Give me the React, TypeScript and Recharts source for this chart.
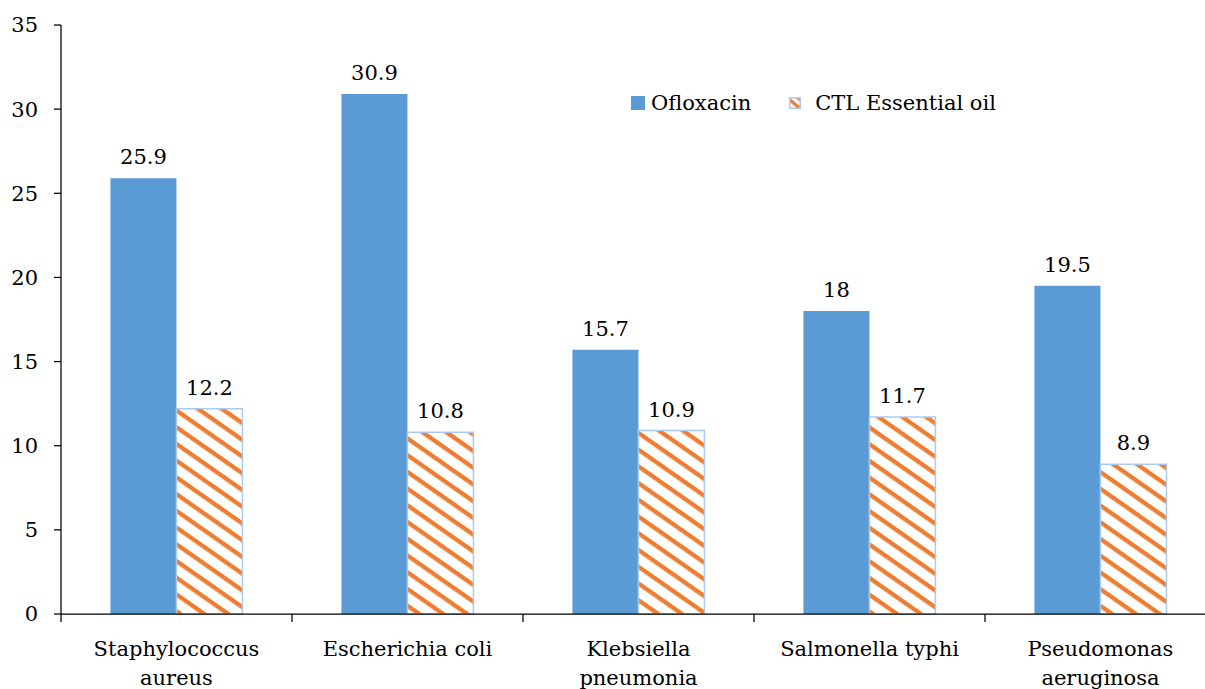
import React from "react";
import { BarChart, Bar, XAxis, YAxis, LabelList, Legend } from "recharts";

const categories = [
  "Staphylococcus aureus",
  "Escherichia coli",
  "Klebsiella pneumonia",
  "Salmonella typhi",
  "Pseudomonas aeruginosa",
];
const categoryLines: string[][] = [
  ["Staphylococcus", "aureus"],
  ["Escherichia coli"],
  ["Klebsiella", "pneumonia"],
  ["Salmonella typhi"],
  ["Pseudomonas", "aeruginosa"],
];
const ofloxacin = [25.9, 30.9, 15.7, 18, 19.5];
const ctlOil = [12.2, 10.8, 10.9, 11.7, 8.9];
const yTicks = [0, 5, 10, 15, 20, 25, 30, 35];
const seriesNames = ["Ofloxacin", "CTL Essential oil"];

const data = categories.map((c, i) => ({
  name: c,
  ofloxacin: ofloxacin[i],
  ctl: ctlOil[i],
}));

const FONT = "'DejaVu Serif', serif";
const FS = 21;
const BLUE = "#5B9BD5";
const ORANGE = "#ED7D31";
const BORDER = "#A9CBEF";

const CategoryTick = (props: any) => {
  const { x, y, payload, index } = props;
  const idx = categories.indexOf(payload.value);
  const lines = idx >= 0 ? categoryLines[idx] : [String(payload.value)];
  const half = payload && payload.offset ? payload.offset : 0;
  return (
    <g>
      {half > 0 && (
        <line x1={x - half} x2={x - half} y1={y - 8} y2={y} stroke="#000" strokeWidth={1.25} />
      )}
      {half > 0 && index === categories.length - 1 && (
        <line x1={x + half} x2={x + half} y1={y - 8} y2={y} stroke="#000" strokeWidth={1.25} />
      )}
      <text x={x} y={y} textAnchor="middle" fontFamily={FONT} fontSize={FS} fill="#000">
        {lines.map((l, i) => (
          <tspan key={i} x={x} dy={i === 0 ? 34 : 29}>
            {l}
          </tspan>
        ))}
      </text>
    </g>
  );
};

const LegendContent = () => (
  <div
    style={{
      display: "flex",
      alignItems: "center",
      fontFamily: FONT,
      fontSize: FS,
      color: "#000",
      whiteSpace: "nowrap",
    }}
  >
    <svg width={14} height={14} style={{ marginRight: 6 }}>
      <rect x={0} y={0} width={14} height={14} fill={BLUE} />
    </svg>
    <span style={{ marginRight: 38 }}>{seriesNames[0]}</span>
    <svg width={12} height={12} style={{ marginRight: 14 }}>
      <rect x={0.75} y={0.75} width={10.5} height={10.5} fill="url(#hatchLegend)" stroke={BORDER} strokeWidth={1.5} />
    </svg>
    <span>{seriesNames[1]}</span>
  </div>
);

export default function App() {
  return (
    <div style={{ position: "fixed", left: 0, top: 0, width: 1205, height: 689, overflow: "hidden", background: "#fff" }}>
      <BarChart
        width={1216}
        height={689}
        data={data}
        margin={{ top: 25, right: 0, bottom: 0, left: 0 }}
        barGap={0}
        barCategoryGap="21.4%"
      >
        <defs>
          <pattern id="hatch" patternUnits="userSpaceOnUse" width={10} height={13.7} patternTransform="rotate(35)">
            <rect x={0} y={0} width={10} height={13.7} fill="#fff" />
            <rect x={0} y={0} width={10} height={4.3} fill={ORANGE} />
          </pattern>
          <pattern id="hatchLegend" patternUnits="userSpaceOnUse" width={10} height={7} patternTransform="rotate(40)">
            <rect x={0} y={0} width={10} height={7} fill="#fff" />
            <rect x={0} y={0} width={10} height={3.5} fill={ORANGE} />
          </pattern>
        </defs>
        <XAxis
          dataKey="name"
          height={75}
          axisLine={{ stroke: "#000", strokeWidth: 1.25 }}
          tickLine={false}
          tick={<CategoryTick />}
          interval={0}
        />
        <YAxis
          width={61}
          domain={[0, 35]}
          ticks={yTicks}
          axisLine={{ stroke: "#000", strokeWidth: 1.25 }}
          tickLine={{ stroke: "#000", strokeWidth: 1.25 }}
          tickSize={7}
          tickMargin={16}
          tick={{ fontFamily: FONT, fontSize: FS, fill: "#000" }}
        />
        <Legend
          layout="horizontal"
          verticalAlign="middle"
          align="center"
          content={<LegendContent />}
          wrapperStyle={{ position: "absolute", left: 631, top: 91, width: "auto", height: "auto" }}
        />
        <Bar dataKey="ofloxacin" fill={BLUE} isAnimationActive={false}>
          <LabelList dataKey="ofloxacin" position="top" offset={14} style={{ fontFamily: FONT, fontSize: FS, fill: "#000" }} />
        </Bar>
        <Bar dataKey="ctl" fill="url(#hatch)" stroke={BORDER} strokeWidth={1.5} isAnimationActive={false}>
          <LabelList dataKey="ctl" position="top" offset={14} style={{ fontFamily: FONT, fontSize: FS, fill: "#000" }} />
        </Bar>
      </BarChart>
    </div>
  );
}
